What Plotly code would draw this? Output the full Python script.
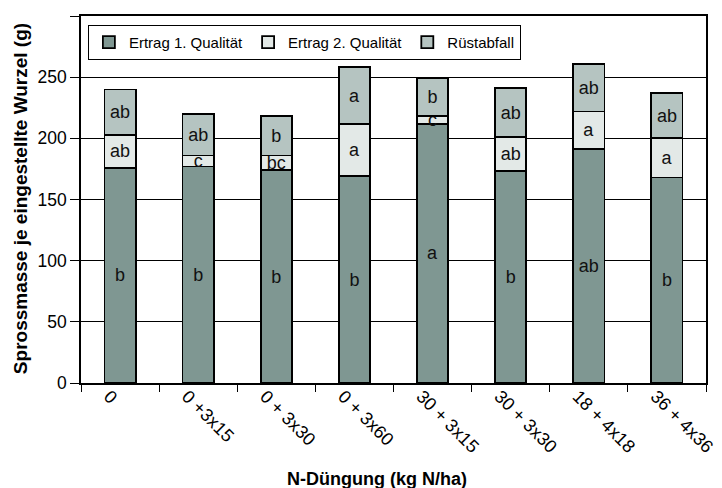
import plotly.graph_objects as go

categories = ["0", "0 +3x15", "0 + 3x30", "0 + 3x60", "30 + 3x15", "30 + 3x30", "18 + 4x18", "36 + 4x36"]
ertrag1 = [176, 177, 174, 169, 212, 173, 191, 168]
ertrag2 = [27, 9, 12, 43, 6, 28, 31, 32]
ruest = [37, 34, 32, 46, 31, 40, 39, 37]
labels1 = ["b", "b", "b", "b", "a", "b", "ab", "b"]
labels2 = ["ab", "c", "bc", "a", "c", "ab", "a", "a"]
labels3 = ["ab", "ab", "b", "a", "b", "ab", "ab", "ab"]

series = [
    ("Ertrag 1. Qualität", ertrag1, labels1, "#7f9792"),
    ("Ertrag 2. Qualität", ertrag2, labels2, "#e3e9e7"),
    ("Rüstabfall", ruest, labels3, "#b5c4c1"),
]

FONT = "Liberation Sans, Arial, sans-serif"

fig = go.Figure()
for name, vals, labs, col in series:
    fig.add_trace(go.Bar(
        x=categories, y=vals, name=name, text=labs,
        textposition="inside", insidetextanchor="middle", textangle=0,
        textfont=dict(size=18, color="#111111", family=FONT),
        marker=dict(color=col, line=dict(color="#000000", width=1.8)),
        width=0.4, cliponaxis=False,
    ))

fig.update_layout(
    barmode="stack",
    width=714, height=480,
    margin=dict(l=73, r=16, t=8, b=105),
    paper_bgcolor="white", plot_bgcolor="white",
    font=dict(family=FONT, color="#000000"),
    uniformtext=dict(minsize=18, mode="show"),
    showlegend=True,
    legend=dict(
        orientation="h", x=0.011, y=0.976, xanchor="left", yanchor="top",
        bgcolor="white", bordercolor="#000000", borderwidth=1,
        font=dict(size=15), traceorder="normal",
        itemwidth=30, tracegroupgap=0,
    ),
    annotations=[
        dict(text="<b>N-Düngung (kg N/ha)</b>", xref="paper", yref="paper",
             x=0.4728, y=-0.262, xanchor="center", yanchor="middle",
             showarrow=False, font=dict(size=18)),
        dict(text="<b>Sprossmasse je eingestellte Wurzel (g)</b>", xref="paper", yref="paper",
             x=-0.0976, y=0.501, xanchor="center", yanchor="middle", textangle=-90,
             showarrow=False, font=dict(size=19)),
    ],
)
fig.update_yaxes(
    range=[0, 300], dtick=50, showgrid=True, gridcolor="#000000", gridwidth=1.3,
    showline=True, linecolor="#000000", linewidth=1.5, mirror=True,
    ticks="outside", ticklen=9, tickcolor="#000000", tickwidth=1.3,
    tickfont=dict(size=17.5),
    zeroline=False, automargin=False,
)
fig.update_xaxes(
    showline=True, linecolor="#000000", linewidth=1.5, mirror=True,
    ticks="outside", ticklen=7, tickcolor="#000000", tickwidth=1.3, tickson="boundaries",
    tickangle=45, tickfont=dict(size=18),
    ticklabelshift=-11, ticklabelstandoff=-6,
    automargin=False,
)

fig.write_html("out.html")
